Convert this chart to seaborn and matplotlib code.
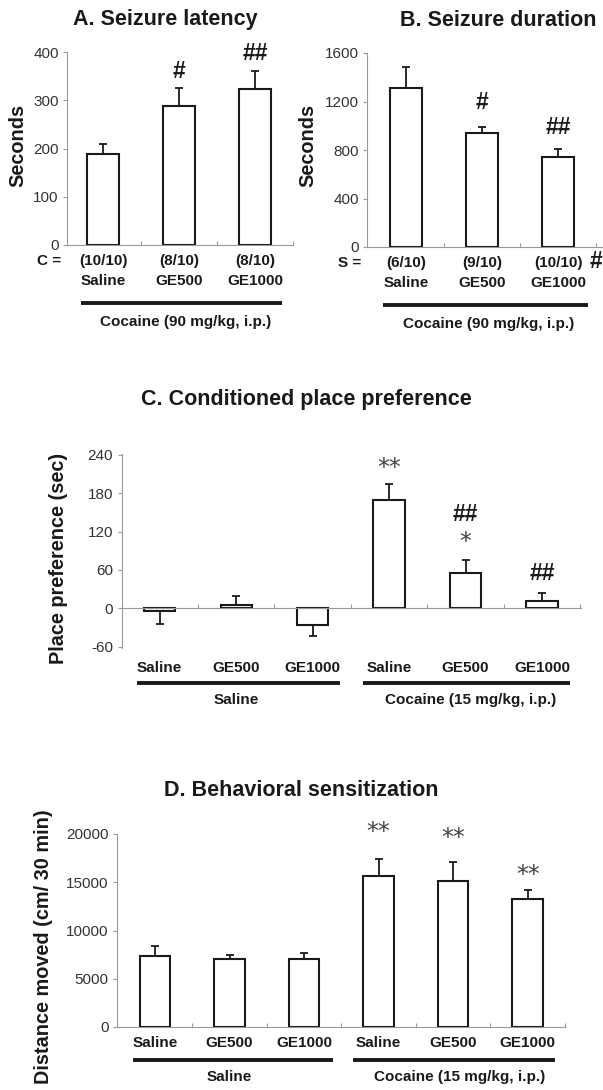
import numpy as np
import pandas as pd
import matplotlib
matplotlib.use("Agg")
import matplotlib.pyplot as plt
import matplotlib.transforms as mtrans
import seaborn as sns

sns.set_theme(style="white")
plt.rcParams['font.family'] = ['Liberation Sans', 'DejaVu Sans']

# ---------------- data ----------------
seizure_groups = ["Saline", "GE500", "GE1000"]

latency_mean = [189, 288, 323]
latency_sem = [20, 37, 38]
latency_counts = ["(10/10)", "(8/10)", "(8/10)"]
latency_marks = ["", "#", "##"]

duration_mean = [1311, 940, 742]
duration_sem = [174, 50, 66]
duration_counts = ["(6/10)", "(9/10)", "(10/10)"]
duration_marks = ["", "#", "##"]

cpp_groups = ["Saline", "GE500", "GE1000", "Saline", "GE500", "GE1000"]
cpp_mean = [-4, 5, -26, 169, 56, 12]
cpp_sem = [20.5, 14, 18, 25, 19, 11.5]
cpp_marks_lower = ["", "", "", "**", "*", "##"]
cpp_marks_upper = ["", "", "", "", "##", ""]

sens_mean = [7380, 7040, 7040, 15600, 15110, 13280]
sens_sem = [1040, 450, 590, 1840, 2010, 900]
sens_marks = ["", "", "", "**", "**", "**"]

pretreat_groups = ["Saline", "Cocaine (15 mg/kg, i.p.)"]

# ---------------- layout helpers ----------------
W, H = 603, 1090
fig = plt.figure(figsize=(W / 100, H / 100), dpi=100)

DARK = "#1a1a1a"
SPINE = "#9a9a9a"
TICK = "#333333"
LAB = 11


def add_axes(l, t, r, b):
    ax = fig.add_axes([l / W, 1 - b / H, (r - l) / W, (b - t) / H])
    ax._pxh = b - t
    return ax


def ftext(x, y, s, **kw):
    fig.text(x / W, 1 - y / H, s, **kw)


def bar_panel(ax, means, sems, width, xlim, ylim, yticks):
    n = len(means)
    df = pd.DataFrame({"pos": list(range(n)), "value": means})
    sns.barplot(data=df, x="pos", y="value", ax=ax, color="white",
                edgecolor=DARK, linewidth=1.5, width=width,
                errorbar=None, saturation=1)
    lower = [s if m < 0 else 0 for m, s in zip(means, sems)]
    upper = [s if m >= 0 else 0 for m, s in zip(means, sems)]
    ax.errorbar(range(n), means, yerr=[lower, upper], fmt="none",
                ecolor=DARK, elinewidth=1.3, capsize=3, capthick=1.3, zorder=1)
    ax.set_xlim(*xlim)
    ax.set_ylim(*ylim)
    ax.set_yticks(yticks)
    ax.set_yticklabels([str(t) for t in yticks])
    ax.set_xlabel("")
    ax.set_ylabel("")
    ax.set_xticks([])
    ax.set_xticks(np.arange(0.5, n - 0.5 + 1e-9, 1.0), minor=True)
    ax.tick_params(axis="x", which="minor", length=3, direction="in",
                   color=SPINE, width=0.8, bottom=True)
    ax.tick_params(axis="y", length=3, direction="out", color=SPINE,
                   width=0.8, left=True, labelsize=11, labelcolor=TICK, pad=3)
    sns.despine(ax=ax)
    ax.spines["left"].set_color(SPINE)
    ax.spines["left"].set_linewidth(0.8)
    ax.spines["bottom"].set_color(SPINE)
    ax.spines["bottom"].set_linewidth(0.8)
    ax.spines["bottom"].set_position(("data", 0))
    ax.patch.set_alpha(0)


def below(ax, x, off, s, **kw):
    kw.setdefault("fontsize", LAB)
    kw.setdefault("fontweight", "bold")
    ax.annotate(s, xy=(x, 0), xycoords=("data", "axes fraction"),
                xytext=(0, -off), textcoords="offset pixels",
                ha="center", va="center", annotation_clip=False,
                color=DARK, **kw)


def group_line(ax, x0, x1, off):
    tr = mtrans.blended_transform_factory(ax.transData, ax.transAxes)
    y = -off / ax._pxh
    ax.plot([x0, x1], [y, y], transform=tr, color=DARK, lw=2.8,
            solid_capstyle="butt", clip_on=False)


def mark(ax, x, y, off, s, star=False):
    if not s:
        return
    if star:
        kw = dict(fontsize=17, color="#444444", family="DejaVu Sans")
    else:
        kw = dict(fontsize=16.5, fontweight="bold", color=DARK)
    ax.annotate(s, xy=(x, y), xytext=(0, off), textcoords="offset pixels",
                ha="center", va="center", annotation_clip=False, **kw)


TITLE_KW = dict(fontsize=15.5, fontweight="bold", ha="center", va="center", color=DARK)
YLAB_KW = dict(fontsize=14.3, fontweight="bold", ha="center", va="center",
               rotation=90, color=DARK)

# ---------------- Panel A ----------------
axA = add_axes(67, 52, 293, 245)
bar_panel(axA, latency_mean, latency_sem, 0.42, (-0.48, 2.45), (0, 400),
          [0, 100, 200, 300, 400])
for i in range(3):
    below(axA, i, 16, latency_counts[i])
    below(axA, i, 36, seizure_groups[i])
    mark(axA, i, latency_mean[i] + latency_sem[i], 17, latency_marks[i])
group_line(axA, -0.29, 2.36, 58)
below(axA, 1.09, 77, "Cocaine (90 mg/kg, i.p.)")
ftext(61, 261, "C =", fontsize=LAB, fontweight="bold", ha="right", va="center", color=DARK)
ftext(165, 20, "A. Seizure latency", **TITLE_KW)
ftext(18, 145, "Seconds", **YLAB_KW)

# ---------------- Panel B ----------------
axB = add_axes(367, 53, 603, 247)
bar_panel(axB, duration_mean, duration_sem, 0.42, (-0.51, 2.59), (0, 1600),
          [0, 400, 800, 1200, 1600])
b_off = [0, 24, 22]
for i in range(3):
    below(axB, i, 16, duration_counts[i])
    below(axB, i, 36, seizure_groups[i])
    mark(axB, i, duration_mean[i] + duration_sem[i], b_off[i], duration_marks[i])
group_line(axB, -0.30, 2.39, 58)
below(axB, 1.09, 77, "Cocaine (90 mg/kg, i.p.)")
ftext(361, 263, "S =", fontsize=LAB, fontweight="bold", ha="right", va="center", color=DARK)
ftext(590, 261, "#", fontsize=16.5, fontweight="bold", ha="left", va="center", color=DARK)
ftext(498, 20, "B. Seizure duration", **TITLE_KW)
ftext(308, 145, "Seconds", **YLAB_KW)

# ---------------- Panel C ----------------
axC = add_axes(121.5, 453.7, 581, 647.9)
bar_panel(axC, cpp_mean, cpp_sem, 0.41, (-0.50, 5.51), (-62, 242),
          [-60, 0, 60, 120, 180, 240])
c_low_off = [0, 0, 0, 16, 18, 20]
c_up_off = [0, 0, 0, 0, 46, 0]
for i in range(6):
    below(axC, i, 20, cpp_groups[i])
    top = cpp_mean[i] + cpp_sem[i]
    lab = cpp_marks_lower[i]
    mark(axC, i, top, c_low_off[i], lab, star=("*" in lab))
    mark(axC, i, top, c_up_off[i], cpp_marks_upper[i])
group_line(axC, -0.30, 2.36, 35)
group_line(axC, 2.66, 5.36, 35)
below(axC, 1.0, 52, pretreat_groups[0])
below(axC, 4.06, 52, pretreat_groups[1])
ftext(306, 400, "C. Conditioned place preference", **TITLE_KW)
ftext(58, 558, "Place preference (sec)", **YLAB_KW)

# ---------------- Panel D ----------------
axD = add_axes(117, 834, 565, 1027)
bar_panel(axD, sens_mean, sens_sem, 0.41, (-0.51, 5.48), (0, 20000),
          [0, 5000, 10000, 15000, 20000])
d_off = [0, 0, 0, 27, 24, 15]
for i in range(6):
    below(axD, i, 16, cpp_groups[i])
    mark(axD, i, sens_mean[i] + sens_sem[i], d_off[i], sens_marks[i], star=True)
group_line(axD, -0.29, 2.39, 33)
group_line(axD, 2.66, 5.36, 33)
below(axD, 1.0, 50, pretreat_groups[0])
below(axD, 4.08, 50, pretreat_groups[1])
ftext(301, 790, "D. Behavioral sensitization", **TITLE_KW)
ftext(44, 947, "Distance moved (cm/ 30 min)", **YLAB_KW)

fig.savefig("out.png", dpi=100, facecolor="white")
